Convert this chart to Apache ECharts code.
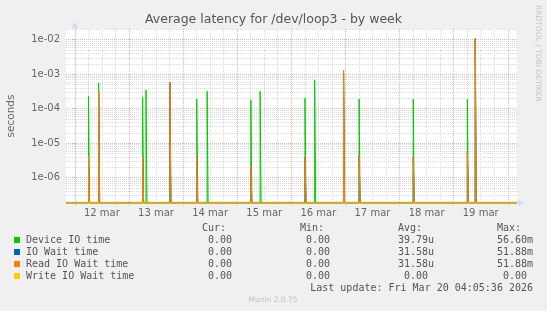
<!DOCTYPE html>
<html><head><meta charset="utf-8">
<script src="https://cdn.jsdelivr.net/npm/echarts@6/dist/echarts.min.js"></script>
<style>html,body{margin:0;padding:0;background:#f0f0f0}#c{width:547px;height:311px}</style>
</head><body><div id="c"></div>
<script>
// ---- data (x = hours since 12 Mar 00:00) ----
const seriesNames = ['Device IO time', 'IO Wait time', 'Read IO Wait time', 'Write IO Wait time'];
const seriesColors = ['#00cc00', '#0066b3', '#ff8000', '#ffcc00'];

const deviceSpikeHours  = [6.3, 10.8, 30.3, 31.8, 42.4, 54.3, 58.9, 78.3, 82.4, 102.3, 106.6, 119.4, 126.3, 150.3, 174.3, 177.8];
const deviceSpikeValues = [2.3e-4, 5.5e-4, 2.2e-4, 3.5e-4, 5.5e-4, 1.9e-4, 3.2e-4, 1.8e-4, 3.2e-4, 2.0e-4, 6.7e-4, 1.2e-3, 1.9e-4, 1.9e-4, 1.9e-4, 1.1e-2];

const ioWaitSpikeHours  = [6.3, 10.8, 30.3, 42.4, 54.3, 78.3, 102.3, 119.4, 126.3, 150.3, 174.3, 177.8];
const ioWaitSpikeValues = [4.3e-6, 3.1e-4, 4.3e-6, 5.9e-4, 4.3e-6, 2.2e-6, 3.9e-6, 1.3e-3, 4.3e-6, 3.9e-6, 5.7e-6, 1.0e-2];

const readSpikeHours  = [6.3, 10.8, 30.3, 42.4, 54.3, 78.3, 102.3, 119.4, 126.3, 150.3, 174.3, 177.8];
const readSpikeValues = [4.3e-6, 3.1e-4, 4.3e-6, 5.9e-4, 4.3e-6, 2.2e-6, 3.9e-6, 1.3e-3, 4.3e-6, 3.9e-6, 5.7e-6, 1.0e-2];

const writeSpikeHours  = [];
const writeSpikeValues = [];

const dayLabels      = ['12 mar', '13 mar', '14 mar', '15 mar', '16 mar', '17 mar', '18 mar', '19 mar'];
const dayLabelHours  = [12, 36, 60, 84, 108, 132, 156, 180];
const dayStartHours  = [0, 24, 48, 72, 96, 120, 144, 168, 192];
const sixHourHours   = [6, 12, 18, 30, 36, 42, 54, 60, 66, 78, 84, 90, 102, 108, 114, 126, 132, 138, 150, 156, 162, 174, 180, 186];

const yMajorTicks = [1e-6, 1e-5, 1e-4, 1e-3, 1e-2];
const yMinorTicks = [2e-7,3e-7,4e-7,5e-7,6e-7,7e-7,8e-7,9e-7,
                     2e-6,3e-6,4e-6,5e-6,6e-6,7e-6,8e-6,9e-6,
                     2e-5,3e-5,4e-5,5e-5,6e-5,7e-5,8e-5,9e-5,
                     2e-4,3e-4,4e-4,5e-4,6e-4,7e-4,8e-4,9e-4,
                     2e-3,3e-3,4e-3,5e-3,6e-3,7e-3,8e-3,9e-3, 2e-2];

const legendCur = ['0.00 ', '0.00 ', '0.00 ', '0.00 '];
const legendMin = ['0.00 ', '0.00 ', '0.00 ', '0.00 '];
const legendAvg = ['39.79u', '31.58u', '31.58u', '0.00 '];
const legendMax = ['56.60m', '51.88m', '51.88m', '0.00 '];

const titleText = 'Average latency for /dev/loop3 - by week';
const lastUpdate = 'Last update: Fri Mar 20 04:05:36 2026';

// ---- axis extents ----
const xMin = -3.9, xMax = 196.1;
const yMin = 1.83e-7, yMax = 2.05e-2;

// zero values cannot be shown on a log axis: rrdtool clamps them to the bottom
function spikeData(hours, values) {
  const d = [[xMin, yMin]];
  hours.forEach((h, i) => {
    const v = Math.max(values[i], yMin);
    d.push([h - 0.22, yMin], [h - 0.22, v], [h + 0.22, v], [h + 0.22, yMin]);
  });
  d.push([xMax, yMin]);
  return d;
}
const allHours = [deviceSpikeHours, ioWaitSpikeHours, readSpikeHours, writeSpikeHours];
const allValues = [deviceSpikeValues, ioWaitSpikeValues, readSpikeValues, writeSpikeValues];

const fontAxis = 'DejaVu Sans';
const txt = '#666';
const axisBlue = '#cfd6f8';
const majorGrid = '#f0b0b0';
const minorGrid = '#d9d9d9';

const graphic = [];
graphic.push({type:'text', left:'center', top:13, style:{text:titleText, font:'12.5px "DejaVu Sans"', fill:'#555'}});
graphic.push({type:'text', x:11, y:116, rotation:Math.PI/2, style:{text:'seconds', font:'10.5px "DejaVu Sans"', fill:txt, align:'center', verticalAlign:'middle'}});
graphic.push({type:'text', x:538, y:5, rotation:-Math.PI/2, style:{text:'RRDTOOL / TOBI OETIKER', font:'7.5px "DejaVu Sans"', fill:'#c4c4c4', align:'left', verticalAlign:'middle'}});
graphic.push({type:'text', x:273, y:300, style:{text:'Munin 2.0.75', font:'7.5px "DejaVu Sans"', fill:'#c0c0c0', align:'center', verticalAlign:'middle'}});

const colEnds = [238, 336, 434, 533];
const headers = ['Cur:', 'Min:', 'Avg:', 'Max:'];
headers.forEach((h, i) => {
  graphic.push({type:'text', x:colEnds[i] - 12, y:228, style:{text:h, font:'10px "DejaVu Sans Mono"', fill:'#555', align:'right', verticalAlign:'middle'}});
});
const rowY = [240, 252, 264, 276];
seriesNames.forEach((n, i) => {
  graphic.push({type:'rect', shape:{x:14, y:rowY[i]-3, width:6, height:6}, style:{fill:seriesColors[i]}});
  graphic.push({type:'text', x:26, y:rowY[i], style:{text:n, font:'10px "DejaVu Sans Mono"', fill:'#555', align:'left', verticalAlign:'middle'}});
  [legendCur, legendMin, legendAvg, legendMax].forEach((col, j) => {
    graphic.push({type:'text', x:colEnds[j], y:rowY[i], style:{text:col[i], font:'10px "DejaVu Sans Mono"', fill:'#555', align:'right', verticalAlign:'middle'}});
  });
});
graphic.push({type:'text', x:533, y:288, style:{text:lastUpdate, font:'10px "DejaVu Sans Mono"', fill:'#555', align:'right', verticalAlign:'middle'}});

function fmtExp(v) {
  const e = Math.round(Math.log10(v));
  return '1e' + (e < 0 ? '-' : '+') + String(Math.abs(e)).padStart(2, '0');
}

const option = {
  backgroundColor: '#f0f0f0',
  animation: false,
  grid: {left: 66, right: 30, top: 29, bottom: 108, backgroundColor: '#ffffff', show: true, borderWidth: 0},
  xAxis: [
    {type:'value', min:xMin, max:xMax, position:'bottom', z:1,
     axisLine:{show:true, lineStyle:{color:axisBlue, width:1}, symbol:['none','triangle'], symbolSize:[6,6], symbolOffset:[0,4]},
     axisTick:{show:true, length:3, customValues:dayStartHours, lineStyle:{color:majorGrid, type:[1,1]}},
     axisLabel:{customValues:dayLabelHours, formatter:(v) => dayLabels[dayLabelHours.indexOf(v)] || '', color:txt, fontFamily:fontAxis, fontSize:10, margin:5},
     splitLine:{show:true, lineStyle:{color:majorGrid, type:[1,1], width:1}}},
    {type:'value', min:xMin, max:xMax, position:'bottom', z:0,
     axisLine:{show:false}, axisLabel:{show:false},
     axisTick:{show:false, customValues:sixHourHours},
     splitLine:{show:true, lineStyle:{color:minorGrid, type:[1,1], width:1}}}
  ],
  yAxis: [
    {type:'log', logBase:10, min:yMin, max:yMax, position:'left', z:1,
     axisLine:{show:true, lineStyle:{color:axisBlue, width:1}, symbol:['none','triangle'], symbolSize:[6,6], symbolOffset:[0,4]},
     axisTick:{show:true, length:2, customValues:yMajorTicks, lineStyle:{color:majorGrid}},
     axisLabel:{customValues:yMajorTicks, formatter:fmtExp, color:txt, fontFamily:fontAxis, fontSize:10, margin:6},
     splitLine:{show:true, lineStyle:{color:majorGrid, type:[1,1], width:1}}},
    {type:'log', logBase:10, min:yMin, max:yMax, position:'left', z:0,
     axisLine:{show:false}, axisLabel:{show:false},
     axisTick:{show:false, customValues:yMinorTicks},
     splitLine:{show:true, lineStyle:{color:minorGrid, type:[1,1], width:1}}}
  ],
  series: seriesNames.map((n, i) => ({
    name: n, type: 'line', xAxisIndex: 0, yAxisIndex: 0,
    data: spikeData(allHours[i], allValues[i]),
    showSymbol: false, symbol: 'none', clip: false, z: 3 + i,
    lineStyle: {color: seriesColors[i], width: 1},
    itemStyle: {color: seriesColors[i]},
    emphasis: {disabled: true}
  })),
  graphic: graphic
};
const chart = echarts.init(document.getElementById('c'), null, {renderer:'canvas'});
chart.setOption(option);
</script></body></html>
